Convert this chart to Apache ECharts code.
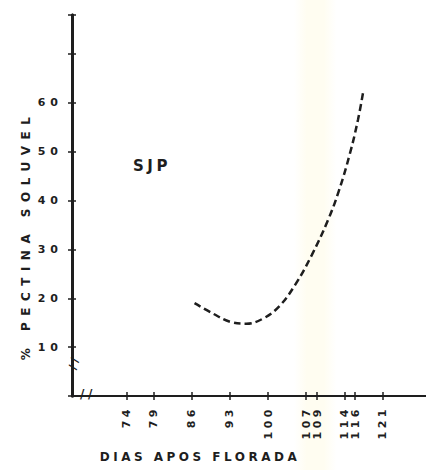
<!DOCTYPE html>
<html>
<head>
    <meta charset="UTF-8">
    <title>SJP - pectina soluvel</title>
    <script src="https://cdn.jsdelivr.net/npm/echarts@6.0.0/dist/echarts.min.js"></script>
    <style>
        body { margin: 0; }
        #main {
            width: 426px; height: 470px;
            letter-spacing: 3.5px;
            background: linear-gradient(to right, #ffffff 0%, #ffffff 69%, #fffdf1 72%, #fffdf1 76%, #ffffff 79%, #ffffff 100%);
        }
    </style>
</head>
<body>
<div id="main"></div>
<script type="text/javascript">
    // dias apos florada (marcas do eixo)
    var tickDays = [74, 79, 86, 93, 100, 107, 109, 114, 116, 121];
    // curva tracejada
    var days = [86.5, 90, 93, 96, 99, 102, 105, 108, 111, 113, 115, 116.5, 117.5];
    var pectin = [19.0, 16.8, 15.2, 14.8, 15.8, 18.3, 22.8, 28.8, 36.0, 42.0, 49.5, 56.5, 62.5];

    var ink = '#1e1e1e';
    var font = 'DejaVu Sans';

    var pts = [];
    for (var i = 0; i < days.length; i++) {
        pts.push([days[i], pectin[i]]);
    }

    var myChart = echarts.init(document.getElementById('main'), null, {renderer: 'svg'});

    var xBase = {
        type: 'value', min: 64, max: 129, position: 'bottom',
        splitLine: {show: false},
        axisLine: {lineStyle: {color: ink, width: 2}}
    };
    var yBase = {
        type: 'value', min: 0, max: 78, interval: 10, position: 'left',
        splitLine: {show: false},
        axisLine: {lineStyle: {color: ink, width: 3}}
    };

    var option = {
        animation: false,
        grid: {left: 72, right: 0, top: 15, bottom: 74, outerBoundsMode: 'none'},
        xAxis: [
            Object.assign({}, xBase, {
                name: 'DIAS APOS FLORADA',
                nameLocation: 'middle',
                nameGap: 55,
                nameTextStyle: {color: ink, fontFamily: font, fontWeight: 'bold', fontSize: 12, padding: [0, 98, 0, 0]},
                axisTick: {customValues: tickDays, length: 4, lineStyle: {color: ink, width: 1.5}},
                axisLabel: {
                    customValues: tickDays, rotate: 90, margin: 10,
                    color: ink, fontFamily: font, fontWeight: 'bold', fontSize: 11
                }
            }),
            Object.assign({}, xBase, {
                axisTick: {customValues: tickDays, inside: true, length: 4, lineStyle: {color: ink, width: 1.5}},
                axisLabel: {show: false}
            })
        ],
        yAxis: [
            Object.assign({}, yBase, {
                name: '% PECTINA SOLUVEL',
                nameLocation: 'middle',
                nameRotate: 90,
                nameGap: 40,
                nameTextStyle: {color: ink, fontFamily: font, fontWeight: 'bold', fontSize: 12, padding: [0, 60, 0, 0]},
                axisTick: {length: 4, lineStyle: {color: ink, width: 1.5}},
                axisLabel: {
                    margin: 9, color: ink, fontFamily: font, fontWeight: 'bold', fontSize: 11,
                    formatter: function (v) { return (v > 0 && v < 70) ? v : ''; }
                }
            }),
            Object.assign({}, yBase, {
                axisTick: {inside: true, length: 4, lineStyle: {color: ink, width: 1.5}},
                axisLabel: {show: false}
            })
        ],
        graphic: [
            {type: 'text', left: 133, top: 158, style: {text: 'SJP', fill: ink, font: 'bold 15px "DejaVu Sans"'}},
            {type: 'text', left: 80, top: 388, style: {text: '//', fill: ink, backgroundColor: '#fff', font: 'bold 12px "DejaVu Sans"'}},
            {type: 'text', x: 67, y: 368, rotation: Math.PI / 2.4, style: {text: '//', fill: ink, backgroundColor: '#fff', font: 'bold 11px "DejaVu Sans"'}}
        ],
        series: [{
            type: 'line',
            data: pts,
            smooth: 0.4,
            symbol: 'none',
            lineStyle: {color: ink, width: 2.5, type: [7, 4]}
        }]
    };
    myChart.setOption(option);

    // espaçamento das letras como no desenho original
    var texts = document.querySelectorAll('#main text');
    for (var k = 0; k < texts.length; k++) {
        var t = texts[k].textContent;
        if (t === '% PECTINA SOLUVEL') {
            texts[k].style.letterSpacing = '6.5px';
        } else if (/^[1-6]0$/.test(t)) {
            texts[k].style.letterSpacing = '5px';
        }
    }
</script>
</body>
</html>
